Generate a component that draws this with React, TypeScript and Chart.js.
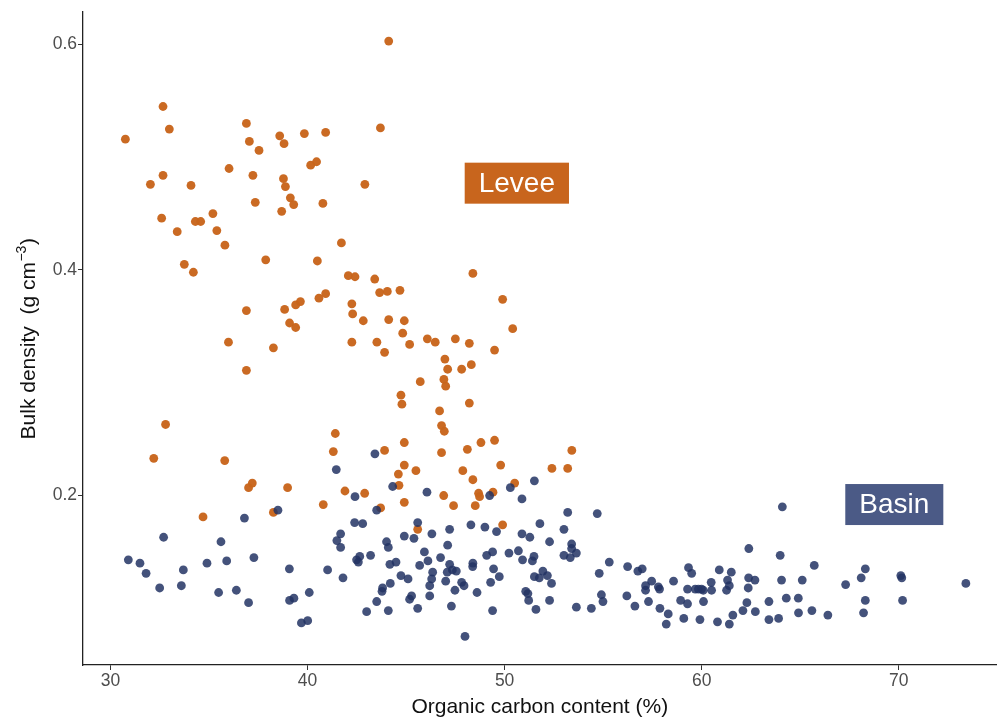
import React, { useEffect, useRef } from "react";
import { Chart, registerables } from "chart.js";

Chart.register(...registerables);

// [organic carbon %, bulk density g/cm3]
const leveePoints: [number, number][] = [
  [30.76, 0.516], [32.67, 0.545], [32.99, 0.525], [32.03, 0.476], [32.67, 0.484], [34.09, 0.475],
  [32.6, 0.446], [34.31, 0.443], [34.58, 0.443], [35.2, 0.45], [33.39, 0.434], [35.4, 0.435],
  [36.02, 0.49], [36.9, 0.53], [37.05, 0.514], [37.54, 0.506], [37.23, 0.484], [37.35, 0.46],
  [38.59, 0.519], [38.81, 0.512], [39.84, 0.521], [40.92, 0.522], [38.78, 0.481], [38.88, 0.474],
  [39.13, 0.464], [39.3, 0.458], [38.69, 0.452], [40.16, 0.493], [40.46, 0.496], [40.78, 0.459],
  [44.12, 0.603], [43.7, 0.526], [42.91, 0.476], [35.81, 0.422], [33.75, 0.405], [34.21, 0.398],
  [37.88, 0.409], [40.5, 0.408], [36.9, 0.364], [38.84, 0.365], [39.4, 0.369], [39.64, 0.372],
  [40.58, 0.375], [40.92, 0.379], [39.09, 0.353], [39.4, 0.349], [35.99, 0.336], [38.27, 0.331],
  [36.9, 0.311], [32.8, 0.263], [41.72, 0.424], [42.07, 0.395], [42.41, 0.394], [43.41, 0.392],
  [43.66, 0.38], [44.05, 0.381], [44.69, 0.382], [48.39, 0.397], [49.9, 0.374], [50.41, 0.348],
  [42.25, 0.37], [42.29, 0.361], [42.83, 0.355], [44.12, 0.356], [44.91, 0.355], [44.83, 0.344],
  [42.25, 0.336], [43.52, 0.336], [43.91, 0.327], [45.18, 0.334], [46.08, 0.339], [46.48, 0.336],
  [47.5, 0.339], [48.21, 0.335], [49.49, 0.329], [46.97, 0.321], [47.11, 0.312], [47.82, 0.312],
  [48.31, 0.316], [45.72, 0.301], [46.92, 0.303], [47.01, 0.297], [44.74, 0.289], [44.79, 0.281],
  [48.21, 0.282], [46.7, 0.275], [46.8, 0.262], [46.94, 0.257], [41.41, 0.255], [32.2, 0.233],
  [35.8, 0.231], [37.01, 0.207], [37.2, 0.211], [38.99, 0.207], [40.8, 0.192], [34.7, 0.181],
  [38.27, 0.185], [41.31, 0.239], [43.91, 0.24], [44.91, 0.247], [46.8, 0.238], [48.11, 0.241],
  [48.8, 0.247], [49.49, 0.249], [53.41, 0.24], [44.91, 0.227], [44.61, 0.219], [45.5, 0.222],
  [47.88, 0.222], [48.39, 0.214], [49.8, 0.227], [52.4, 0.224], [53.2, 0.224], [50.51, 0.211],
  [44.64, 0.209], [41.9, 0.204], [42.9, 0.202], [46.91, 0.2], [48.68, 0.202], [48.73, 0.199],
  [49.41, 0.203], [44.91, 0.194], [47.41, 0.191], [48.51, 0.191], [43.71, 0.189], [45.59, 0.17],
  [49.9, 0.174],
];

const basinPoints: [number, number][] = [
  [38.5, 0.187], [36.8, 0.18], [32.7, 0.163], [35.61, 0.159], [30.91, 0.143], [31.5, 0.14],
  [31.81, 0.131], [32.5, 0.118], [33.7, 0.134], [33.6, 0.12], [34.9, 0.14], [35.9, 0.142],
  [37.28, 0.145], [35.49, 0.114], [36.39, 0.116], [37.01, 0.105], [39.08, 0.135], [39.09, 0.107],
  [39.31, 0.109], [40.09, 0.114], [39.69, 0.087], [40.01, 0.089], [41.02, 0.134], [43.42, 0.237],
  [41.46, 0.223], [44.32, 0.208], [46.06, 0.203], [50.29, 0.207], [51.51, 0.213], [49.24, 0.2],
  [42.41, 0.199], [50.88, 0.197], [43.51, 0.187], [53.2, 0.185], [42.39, 0.176], [42.8, 0.175],
  [45.59, 0.176], [48.29, 0.174], [49.0, 0.172], [49.59, 0.168], [47.21, 0.17], [51.79, 0.175],
  [53.01, 0.17], [41.68, 0.166], [41.49, 0.16], [41.68, 0.154], [44.91, 0.164], [45.4, 0.162],
  [46.31, 0.166], [50.88, 0.166], [51.28, 0.163], [52.28, 0.159], [44.01, 0.159], [44.1, 0.154],
  [47.11, 0.156], [53.4, 0.157], [53.4, 0.153], [53.64, 0.149], [53.33, 0.145], [53.01, 0.147],
  [49.39, 0.15], [49.09, 0.147], [50.22, 0.149], [50.7, 0.151], [45.93, 0.15], [43.2, 0.147],
  [42.65, 0.146], [42.49, 0.143], [42.58, 0.141], [46.75, 0.145], [46.11, 0.142], [50.91, 0.143],
  [51.49, 0.146], [51.41, 0.142], [44.49, 0.141], [44.18, 0.139], [45.69, 0.138], [48.39, 0.14],
  [48.38, 0.137], [47.21, 0.139], [47.35, 0.134], [47.55, 0.133], [47.09, 0.132], [49.44, 0.135],
  [46.35, 0.132], [44.74, 0.129], [45.1, 0.126], [51.51, 0.128], [51.76, 0.127], [51.94, 0.133],
  [52.17, 0.129], [49.73, 0.128], [46.3, 0.126], [47.01, 0.124], [41.8, 0.127], [52.38, 0.122],
  [44.2, 0.122], [47.82, 0.123], [47.94, 0.12], [46.2, 0.12], [49.29, 0.123], [43.81, 0.118],
  [43.78, 0.115], [47.48, 0.116], [48.6, 0.114], [51.07, 0.115], [51.18, 0.113], [46.2, 0.111],
  [45.28, 0.111], [45.18, 0.108], [43.51, 0.106], [51.22, 0.107], [52.28, 0.107], [47.3, 0.102],
  [45.59, 0.1], [43.0, 0.097], [44.1, 0.098], [49.39, 0.098], [51.59, 0.099], [53.64, 0.101],
  [47.99, 0.075], [54.7, 0.184], [64.09, 0.19], [62.39, 0.153], [63.98, 0.147], [55.31, 0.141],
  [56.24, 0.137], [56.76, 0.133], [56.98, 0.135], [54.8, 0.131], [59.33, 0.136], [59.49, 0.131],
  [60.89, 0.134], [61.5, 0.132], [57.46, 0.124], [58.57, 0.124], [57.15, 0.12], [57.15, 0.116],
  [57.8, 0.119], [57.86, 0.117], [60.48, 0.123], [60.5, 0.116], [61.31, 0.125], [61.4, 0.12],
  [61.26, 0.116], [62.38, 0.127], [62.7, 0.125], [64.05, 0.125], [62.36, 0.118], [59.28, 0.117],
  [59.67, 0.117], [59.83, 0.117], [59.99, 0.117], [60.08, 0.116], [54.91, 0.112], [54.99, 0.106],
  [56.2, 0.111], [57.3, 0.106], [58.93, 0.107], [59.28, 0.104], [60.09, 0.106], [54.4, 0.1],
  [56.61, 0.102], [57.88, 0.1], [62.29, 0.105], [63.41, 0.106], [64.29, 0.109], [58.3, 0.095],
  [62.09, 0.098], [61.58, 0.094], [62.72, 0.097], [58.2, 0.086], [59.09, 0.091], [59.91, 0.09],
  [60.8, 0.088], [61.4, 0.086], [63.41, 0.09], [63.9, 0.091], [65.71, 0.138], [65.1, 0.125],
  [64.9, 0.109], [64.91, 0.096], [65.59, 0.098], [66.4, 0.094], [67.3, 0.121], [68.09, 0.127],
  [68.3, 0.135], [68.3, 0.107], [68.21, 0.096], [70.1, 0.129], [70.15, 0.127], [70.19, 0.107],
  [73.4, 0.122],
];

const xTicks = [30, 40, 50, 60, 70];
const yTicks = [0.2, 0.4, 0.6];
const groupNames = ["Levee", "Basin"];
const groupLabelX = [50.62, 69.77];
const groupLabelY = [0.477, 0.192];

const xTitle = "Organic carbon content (%)";
const yTitleMain = "Bulk density  (g cm";
const yTitleSup = "\u22123";
const yTitleEnd = ")";

const FONT = "'Liberation Sans', Arial, Helvetica, sans-serif";
const ORANGE = "rgba(200,101,28,0.97)";
const NAVY = "rgba(35,52,100,0.85)";
const LEVEE_BOX = "#c8651d";
const BASIN_BOX = "#4b5a86";

const labelsPlugin = {
  id: "groupLabels",
  afterDatasetsDraw(chart: any) {
    const { ctx, scales } = chart;
    const fills = [LEVEE_BOX, BASIN_BOX];
    ctx.save();
    ctx.font = `28px ${FONT}`;
    ctx.textAlign = "center";
    ctx.textBaseline = "middle";
    groupNames.forEach((name, i) => {
      const cx = scales.x.getPixelForValue(groupLabelX[i]);
      const cy = scales.y.getPixelForValue(groupLabelY[i]);
      const w = ctx.measureText(name).width + 28;
      const h = 41;
      ctx.fillStyle = fills[i];
      ctx.fillRect(cx - w / 2, cy - h / 2, w, h);
      ctx.fillStyle = "#ffffff";
      ctx.fillText(name, cx, cy + 1);
    });
    ctx.restore();
  },
};

const yTitlePlugin = {
  id: "yTitle",
  afterDraw(chart: any) {
    const { ctx } = chart;
    const cy = chart.scales.y.getPixelForValue(0.339);
    ctx.save();
    ctx.translate(34.5, cy);
    ctx.rotate(-Math.PI / 2);
    ctx.fillStyle = "#111111";
    ctx.textBaseline = "alphabetic";
    ctx.textAlign = "left";
    const mainFont = `21px ${FONT}`;
    const supFont = `14px ${FONT}`;
    ctx.font = mainFont;
    const w1 = ctx.measureText(yTitleMain).width;
    const w3 = ctx.measureText(yTitleEnd).width;
    ctx.font = supFont;
    const w2 = ctx.measureText(yTitleSup).width;
    const total = w1 + w2 + w3 + 1;
    let x = -total / 2;
    ctx.font = mainFont;
    ctx.fillText(yTitleMain, x, 0);
    x += w1 + 0.5;
    ctx.font = supFont;
    ctx.fillText(yTitleSup, x, -9);
    x += w2 + 0.5;
    ctx.font = mainFont;
    ctx.fillText(yTitleEnd, x, 0);
    ctx.restore();
  },
};

export default function App() {
  const canvasRef = useRef<HTMLCanvasElement | null>(null);

  useEffect(() => {
    if (!canvasRef.current) return;
    const chart = new Chart(canvasRef.current, {
      type: "scatter",
      data: {
        datasets: [
          {
            label: "Basin",
            data: basinPoints.map(([x, y]) => ({ x, y })),
            backgroundColor: NAVY,
            borderWidth: 0,
            pointRadius: 4.4,
            pointHoverRadius: 4.4,
          },
          {
            label: "Levee",
            data: leveePoints.map(([x, y]) => ({ x, y })),
            backgroundColor: ORANGE,
            borderWidth: 0,
            pointRadius: 4.4,
            pointHoverRadius: 4.4,
          },
        ],
      },
      options: {
        animation: false,
        responsive: false,
        maintainAspectRatio: false,
        devicePixelRatio: 1,
        layout: { padding: { top: 12, left: 0, right: 0, bottom: 0 } },
        plugins: {
          legend: { display: false },
          tooltip: { enabled: false },
          title: { display: false },
        },
        scales: {
          x: {
            type: "linear",
            min: 28.61,
            max: 74.96,
            afterBuildTicks: (s: any) => {
              s.ticks = xTicks.map((v) => ({ value: v }));
            },
            afterFit: (s: any) => {
              s.height = 55;
            },
            grid: {
              display: true,
              drawOnChartArea: false,
              drawTicks: true,
              tickLength: 5,
              color: "#333333",
              lineWidth: 1,
            },
            border: { display: true, color: "#222222", width: 1.3 },
            ticks: {
              color: "#4d4d4d",
              font: { family: FONT, size: 17.5 },
              padding: 1,
              maxRotation: 0,
              autoSkip: false,
              callback: (v: any) => String(v),
            },
            title: {
              display: true,
              text: xTitle,
              color: "#111111",
              font: { family: FONT, size: 21 },
              padding: { top: 0, bottom: 0 },
            },
          },
          y: {
            type: "linear",
            min: 0.0497,
            max: 0.6288,
            afterBuildTicks: (s: any) => {
              s.ticks = yTicks.map((v) => ({ value: v }));
            },
            afterFit: (s: any) => {
              s.width = 83;
            },
            grid: {
              display: true,
              drawOnChartArea: false,
              drawTicks: true,
              tickLength: 5,
              color: "#333333",
              lineWidth: 1,
            },
            border: { display: true, color: "#222222", width: 1.3 },
            ticks: {
              color: "#4d4d4d",
              font: { family: FONT, size: 17.5 },
              padding: 1,
              autoSkip: false,
              callback: (v: any) => Number(v).toFixed(1),
            },
            title: { display: false },
          },
        },
      },
      plugins: [labelsPlugin, yTitlePlugin],
    });
    return () => chart.destroy();
  }, []);

  return (
    <div
      style={{
        position: "fixed",
        left: 0,
        top: 0,
        width: 997,
        height: 720,
        overflow: "hidden",
        background: "#ffffff",
      }}
    >
      <canvas ref={canvasRef} width={1001} height={720} style={{ width: 1001, height: 720, display: "block" }} />
    </div>
  );
}
